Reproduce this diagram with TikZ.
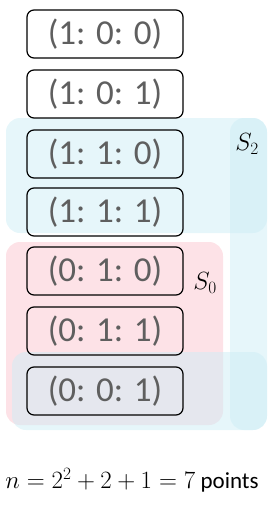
\documentclass[tikz,border=0pt]{standalone}
\usepackage{fontspec}
\setmainfont{Carlito}
\usetikzlibrary{positioning}
\definecolor{setblue}{RGB}{205,237,245}
\definecolor{setpink}{RGB}{251,197,207}
\definecolor{tuplegray}{RGB}{95,95,95}

\begin{document}
\begin{tikzpicture}[x=1pt,y=-1pt,
  tuple/.style={draw=black,line width=1.2pt,rounded corners=7pt,minimum width=156pt,minimum height=48pt,inner sep=0pt,text=tuplegray,font=\fontsize{35}{36}\selectfont},
  region/.style={fill opacity=0.5,rounded corners=14pt}]
\useasboundingbox (0,0) rectangle (278,506);
% the two sets
\fill[setblue,region] (6,118) rectangle (267,233);
\fill[setblue,region] (230,118) rectangle (267,430);
\fill[setpink,region] (6,242) rectangle (223,425);
\fill[setblue,region] (12,352) rectangle (267,430);
% the points
\node[tuple] (p100) at (105,34) {(1: 0: 0)};
\node[tuple] (p101) at (105,94) {(1: 0: 1)};
\node[tuple] (p110) at (105,154) {(1: 1: 0)};
\node[tuple] (p111) at (105,212) {(1: 1: 1)};
\node[tuple] (p010) at (105,271) {(0: 1: 0)};
\node[tuple] (p011) at (105,331) {(0: 1: 1)};
\node[tuple] (p001) at (105,391) {(0: 0: 1)};
\node[font=\fontsize{26}{28}\selectfont] (s2) at (247,144) {$S_2$};
\node[font=\fontsize{26}{28}\selectfont] (s0) at (205,283) {$S_0$};
\node[font=\fontsize{23}{26}\selectfont] (count) at (132,480) {$n=2^2+2+1=7$ points};
\end{tikzpicture}
\end{document}
